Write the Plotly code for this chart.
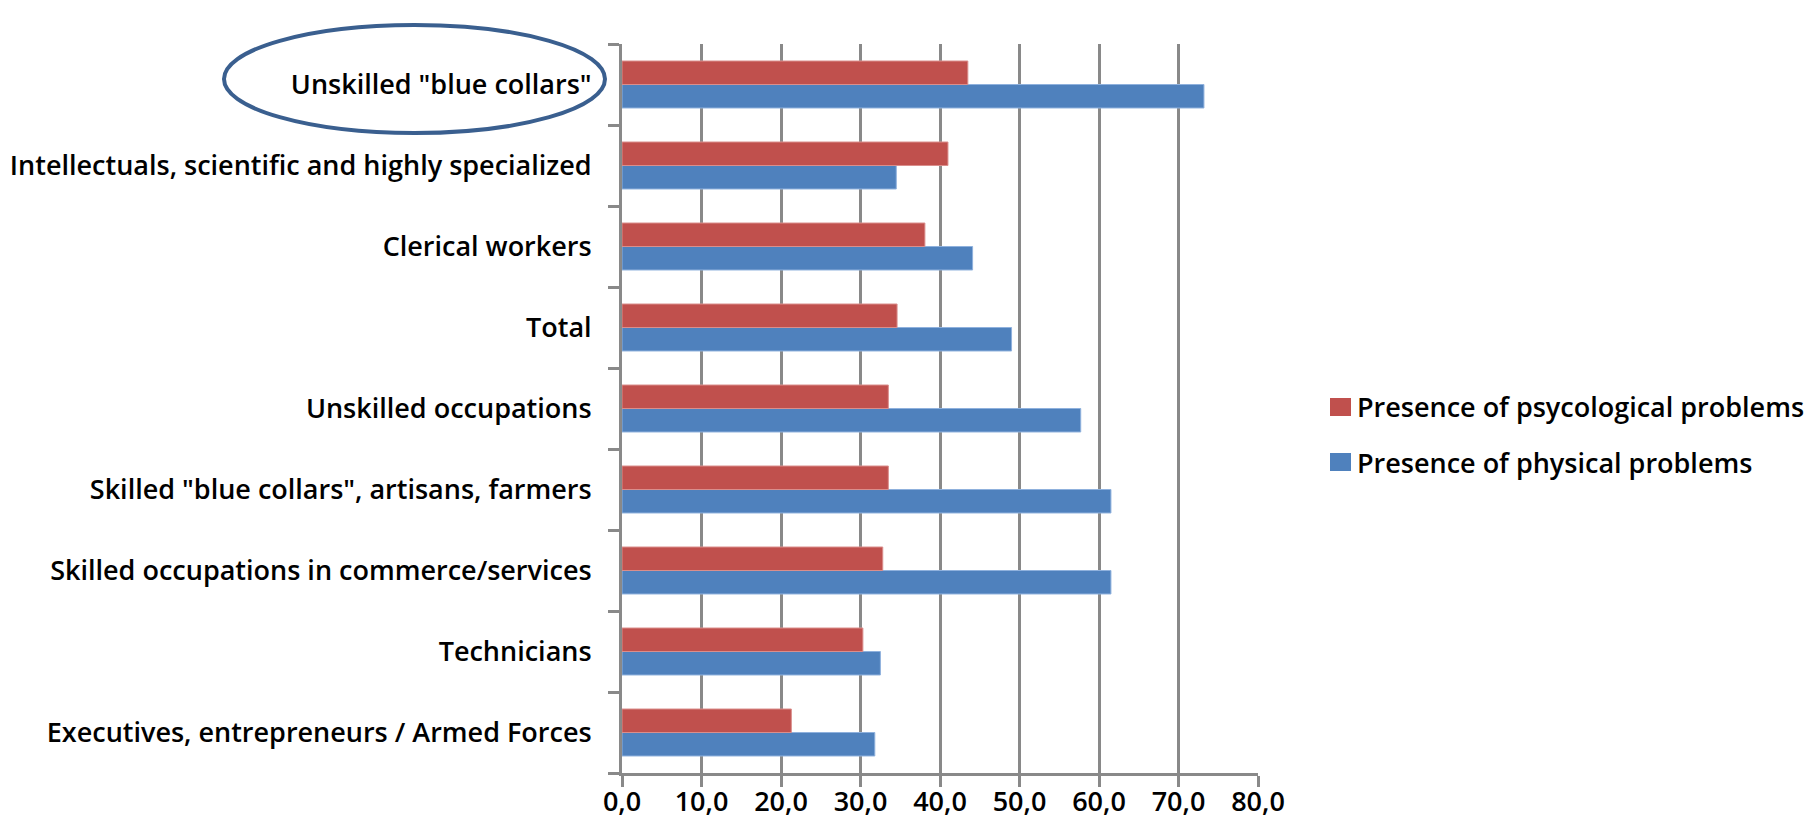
import plotly.graph_objects as go

# Occupational groups, listed bottom to top as drawn on the category axis
categories = [
    "Executives, entrepreneurs / Armed Forces",
    "Technicians",
    "Skilled occupations in commerce/services",
    "Skilled \"blue collars\", artisans, farmers",
    "Unskilled occupations",
    "Total",
    "Clerical workers",
    "Intellectuals, scientific and highly specialized",
    "Unskilled \"blue collars\"",
]

# Share of workers (%) reporting each kind of problem
physical = [31.8, 32.5, 61.5, 61.5, 57.7, 49.0, 44.1, 34.5, 73.2]
psychological = [21.3, 30.3, 32.8, 33.5, 33.5, 34.6, 38.1, 41.0, 43.5]

x_ticks = [0, 10, 20, 30, 40, 50, 60, 70, 80]

name_phys = "Presence of physical problems"
name_psy = "Presence of psycological problems"
color_phys = "#4F81BD"
color_psy = "#C0504D"

FONT = "'Open Sans', 'Noto Sans', sans-serif"
WEIGHT = 600
GRID = "#898989"

W, H = 1805, 832
L, R, T, B = 622, 1258, 44, 773  # plot area in pixels


def px(x):
    return (x - L) / (R - L)


def py(y):
    return (B - y) / (B - T)


fig = go.Figure()
fig.add_trace(go.Bar(
    y=categories, x=physical, orientation="h", name=name_phys,
    marker=dict(color=color_phys, line=dict(color="#8FB1DD", width=1)),
    showlegend=False,
))
fig.add_trace(go.Bar(
    y=categories, x=psychological, orientation="h", name=name_psy,
    marker=dict(color=color_psy, line=dict(color="#DA8E8C", width=1)),
    showlegend=False,
))

# Legend drawn as swatches plus text, psychological first
legend_rows = [(name_psy, color_psy, 407), (name_phys, color_phys, 462)]
shapes = []
annotations = []
for label, color, yc in legend_rows:
    shapes.append(dict(
        type="rect", xref="paper", yref="paper",
        x0=px(1330), x1=px(1351), y0=py(yc + 9), y1=py(yc - 9),
        fillcolor=color, line=dict(width=0),
    ))
    annotations.append(dict(
        xref="paper", yref="paper", x=px(1355), y=py(yc),
        xanchor="left", yanchor="middle", text=label, showarrow=False,
        font=dict(family=FONT, size=27, color="black", weight=WEIGHT),
    ))

# Highlight around the top category label
shapes.append(dict(
    type="circle", xref="paper", yref="paper",
    x0=px(224), x1=px(605), y0=py(133), y1=py(25),
    line=dict(color="#3A5F8F", width=4), fillcolor="rgba(0,0,0,0)",
))

fig.update_layout(
    width=W, height=H,
    margin=dict(l=L, r=W - R, t=T, b=H - B, pad=0, autoexpand=False),
    paper_bgcolor="white", plot_bgcolor="white",
    barmode="group", bargap=0.42, bargroupgap=0,
    separators=", ",
    font=dict(family=FONT, size=27, color="black", weight=WEIGHT),
    shapes=shapes, annotations=annotations,
    showlegend=False,
)
fig.update_xaxes(
    range=[0, 80], tickvals=x_ticks, tickformat=".1f", automargin=False,
    showgrid=True, gridcolor=GRID, gridwidth=2.5,
    showline=True, linecolor=GRID, linewidth=3,
    ticks="outside", ticklen=11, tickwidth=3, tickcolor=GRID,
    ticklabelstandoff=-8, zeroline=False,
    tickfont=dict(family=FONT, size=27, color="black", weight=WEIGHT),
)
fig.update_yaxes(
    type="category", categoryorder="array", categoryarray=categories,
    automargin=False,
    showgrid=False, showline=True, linecolor=GRID, linewidth=3,
    ticks="outside", tickson="boundaries", ticklen=11, tickwidth=3, tickcolor=GRID,
    ticklabelstandoff=22,
    tickfont=dict(family=FONT, size=27, color="black", weight=WEIGHT),
)

fig.write_html("out.html")
